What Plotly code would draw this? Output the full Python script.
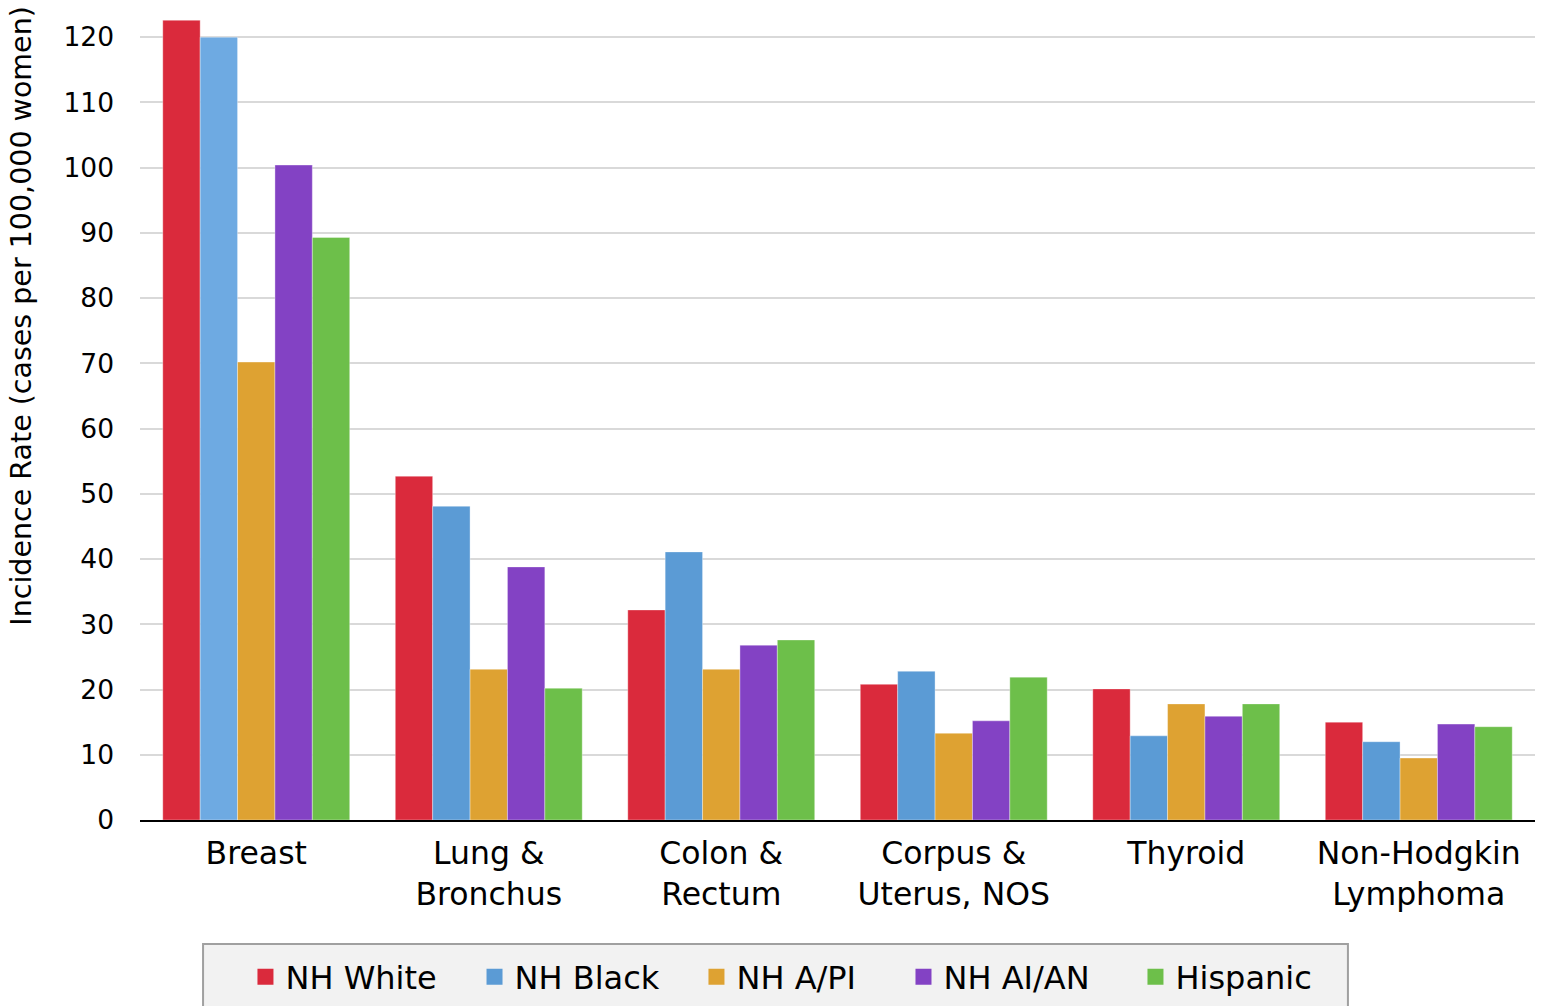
import plotly.graph_objects as go

# Incidence rates by cancer site and race/ethnicity (cases per 100,000 women)
sites = ["Breast", "Lung &<br>Bronchus", "Colon &<br>Rectum", "Corpus &<br>Uterus, NOS",
         "Thyroid", "Non-Hodgkin<br>Lymphoma"]
nh_white = [122.6, 52.7, 32.2, 20.8, 20.1, 15.0]
nh_black = [120.0, 48.1, 41.1, 22.8, 12.9, 12.0]
nh_api = [70.2, 23.1, 23.1, 13.3, 17.8, 9.5]
nh_aian = [100.4, 38.8, 26.8, 15.2, 15.9, 14.7]
hispanic = [89.3, 20.2, 27.6, 21.9, 17.8, 14.3]
y_ticks = [0, 10, 20, 30, 40, 50, 60, 70, 80, 90, 100, 110, 120]

series = [
    ("NH White", nh_white, "#da2a3c", None),
    ("NH Black", nh_black, "#5b9bd5", ["#6eaae2"] + ["#5b9bd5"] * 5),
    ("NH A/PI", nh_api, "#dea232", None),
    ("NH AI/AN", nh_aian, "#8342c4", None),
    ("Hispanic", hispanic, "#6dbf4a", None),
]

FONT = "DejaVu Sans, Verdana, sans-serif"

# left edge (paper x) of each legend entry
legend_x = [0.0756, 0.2398, 0.3989, 0.5473, 0.7136]

fig = go.Figure()
for name, vals, color, bar_colors in series:
    fig.add_trace(go.Bar(
        name=name, x=sites, y=vals, showlegend=False,
        marker=dict(color=bar_colors if bar_colors else color,
                    line=dict(color="rgba(255,255,255,0.35)", width=1)),
    ))

# one legend per series so each key sits at its own spot in the panel
legend_layout = {}
for i, (name, vals, color, _) in enumerate(series):
    key = "legend" if i == 0 else f"legend{i + 1}"
    fig.add_trace(go.Scatter(
        name=name, x=[None], y=[None], mode="markers", legend=key,
        marker=dict(symbol="square", size=18, color=color), hoverinfo="skip",
    ))
    legend_layout[key] = dict(
        orientation="h", x=legend_x[i], xanchor="left", y=-0.1915, yanchor="middle",
        bgcolor="rgba(0,0,0,0)", borderwidth=0,
        font=dict(size=32, family=FONT, color="#000000"),
    )

# Grey legend panel
fig.add_shape(type="rect", xref="paper", yref="paper",
              x0=0.0452, x1=0.8659, y0=-0.2400, y1=-0.1512,
              fillcolor="#f2f2f2", line=dict(color="#a0a0a0", width=2), layer="below")

# Y axis title
fig.add_annotation(text="Incidence Rate (cases per 100,000 women)", textangle=-90,
                   xref="paper", yref="paper", x=-0.0849, y=0.234,
                   xanchor="center", yanchor="bottom", showarrow=False,
                   font=dict(size=28.5, family=FONT, color="#000000"))

fig.update_layout(
    width=1544, height=1006,
    margin=dict(l=140, r=9, t=0, b=186),
    paper_bgcolor="white", plot_bgcolor="white",
    font=dict(family=FONT, color="#000000"),
    barmode="group", bargap=0.196, bargroupgap=0,
    showlegend=True,
    xaxis=dict(showline=True, linecolor="#000000", linewidth=2, ticks="",
               tickfont=dict(size=31.5, family=FONT, color="#000000"), showgrid=False,
               ticklabelstandoff=4),
    yaxis=dict(range=[0, 125.7], tickvals=y_ticks, showgrid=True, gridcolor="#d9d9d9",
               gridwidth=2, zeroline=False, showline=False, ticks="",
               ticklabelstandoff=25,
               tickfont=dict(size=26.5, family=FONT, color="#000000")),
    **legend_layout,
)

fig.write_html("out.html")
